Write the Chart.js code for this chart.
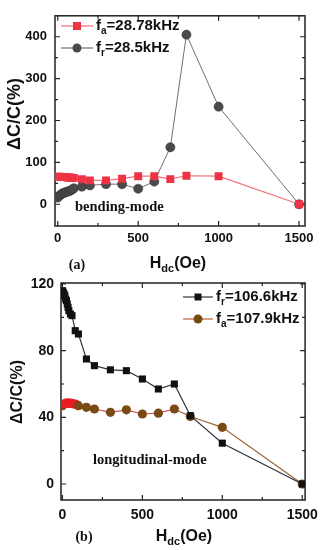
<!DOCTYPE html>
<html>
<head>
<meta charset="utf-8">
<script src="https://cdn.jsdelivr.net/npm/chart.js@4.4.0/dist/chart.umd.min.js"></script>
<style>
  body { margin: 0; background: #fff; width: 325px; height: 550px; position: relative; overflow: hidden; }
  canvas { position: absolute; left: 0; }
  #chartA { top: 0; }
  #chartB { top: 265px; }
</style>
</head>
<body>
<canvas id="chartA" width="325" height="285"></canvas>
<canvas id="chartB" width="325" height="285"></canvas>
<script>
// (a) bending mode
const fieldA = [0, 10, 20, 30, 40, 50, 60, 70, 80, 90, 100, 150, 200, 300, 400, 500, 600, 700, 800, 1000, 1500];
const faBend = [66, 66, 65, 65, 65, 65, 64, 64, 64, 63, 63, 60, 57, 57, 61, 67, 67, 60, 68, 67, 0];
const frBend = [16, 20, 23, 26, 27, 29, 30, 31, 33, 35, 38, 42, 45, 48, 48, 37, 54, 136, 405, 233, 0];

// (b) longitudinal mode
const fieldBr = [0, 5, 10, 15, 20, 25, 30, 35, 40, 50, 60, 80, 100, 150, 200, 300, 400, 500, 600, 700, 800, 1000, 1500];
const frLong = [116, 115, 114, 113, 111, 110, 108, 106, 104, 102, 101, 92, 90, 75, 71, 68.5, 68, 63, 57, 60, 41, 24.5, 0];
const fieldBa = [0, 10, 20, 30, 40, 50, 60, 70, 80, 90, 100, 150, 200, 300, 400, 500, 600, 700, 800, 1000, 1500];
const faLong = [47, 48, 48.5, 48.5, 48.5, 48.5, 48.3, 48, 48, 47.5, 47, 46, 45, 43, 44.5, 42, 42.5, 45, 40.5, 34, 0];

const xTicks = [0, 500, 1000, 1500];
const xMinor = [250, 750, 1250];
const yTicksA = [0, 100, 200, 300, 400];
const yMinorA = [50, 150, 250, 350];
const yTicksB = [0, 40, 80, 120];
const yMinorB = [20, 60, 100];

const SANS = '"Liberation Sans", Arial, sans-serif';
const SERIF = '"Liberation Serif", "Times New Roman", serif';

const pts = (xs, ys) => xs.map((x, i) => ({ x: x, y: ys[i] }));

// frame with inward ticks on all four sides
const frame = {
  id: 'frame',
  beforeDatasetsDraw(chart, args, o) {
    const { ctx, chartArea: a, scales: { x, y } } = chart;
    ctx.save();
    ctx.strokeStyle = '#222';
    ctx.lineWidth = 1.5;
    ctx.strokeRect(a.left, a.top, a.right - a.left, a.bottom - a.top);
    ctx.lineWidth = 1.2;
    ctx.beginPath();
    const xt = (vals, len) => vals.forEach(v => {
      const px = x.getPixelForValue(v);
      ctx.moveTo(px, a.bottom); ctx.lineTo(px, a.bottom - len);
      ctx.moveTo(px, a.top); ctx.lineTo(px, a.top + len);
    });
    const yt = (vals, len) => vals.forEach(v => {
      const py = y.getPixelForValue(v);
      ctx.moveTo(a.left, py); ctx.lineTo(a.left + len, py);
      ctx.moveTo(a.right, py); ctx.lineTo(a.right - len, py);
    });
    xt(xTicks, 5); xt(xMinor, 3);
    yt(o.yMajor, 5); yt(o.yMinor, 3);
    ctx.stroke();
    ctx.restore();
  }
};

function subText(ctx, main, sub, rest, x, y, size, align) {
  const f1 = 'bold ' + size + 'px ' + SANS;
  const f2 = 'bold ' + Math.round(size * 0.68) + 'px ' + SANS;
  ctx.font = f1; const w1 = ctx.measureText(main).width; const w3 = ctx.measureText(rest).width;
  ctx.font = f2; const w2 = ctx.measureText(sub).width;
  let sx = align === 'center' ? x - (w1 + w2 + w3) / 2 : x;
  ctx.textAlign = 'left';
  ctx.textBaseline = 'middle';
  ctx.font = f1; ctx.fillText(main, sx, y);
  ctx.font = f2; ctx.fillText(sub, sx + w1, y + size * 0.32);
  ctx.font = f1; ctx.fillText(rest, sx + w1 + w2, y);
}

const deco = {
  id: 'deco',
  afterDraw(chart, args, o) {
    const ctx = chart.ctx;
    ctx.save();
    ctx.fillStyle = '#111';
    // y title
    ctx.save();
    ctx.translate(o.yTitle[0], o.yTitle[1]);
    ctx.rotate(-Math.PI / 2);
    ctx.font = 'bold ' + o.yTitle[2] + 'px ' + SANS;
    ctx.textAlign = 'center';
    ctx.textBaseline = 'middle';
    ctx.fillText('ΔC/C(%)', 0, 0);
    ctx.restore();
    // x title
    subText(ctx, 'H', 'dc', '(Oe)', o.xTitle[0], o.xTitle[1], 16, 'center');
    // panel tag and mode label
    ctx.font = 'bold 14px ' + SERIF;
    ctx.textAlign = 'center';
    ctx.textBaseline = 'middle';
    ctx.fillText(o.tag[0], o.tag[1], o.tag[2]);
    ctx.textAlign = 'left';
    ctx.font = 'bold 14.5px ' + SERIF;
    ctx.fillText(o.mode[0], o.mode[1], o.mode[2]);
    // legend
    o.legend.forEach(it => {
      ctx.strokeStyle = it.line;
      ctx.lineWidth = 1.2;
      ctx.beginPath();
      ctx.moveTo(it.x0, it.y); ctx.lineTo(it.x1, it.y);
      ctx.stroke();
      ctx.fillStyle = it.fill;
      const mx = (it.x0 + it.x1) / 2;
      ctx.beginPath();
      if (it.style === 'rect') ctx.rect(mx - it.r, it.y - it.r, it.r * 2, it.r * 2);
      else ctx.arc(mx, it.y, it.r, 0, Math.PI * 2);
      ctx.fill();
      ctx.fillStyle = '#111';
      subText(ctx, 'f', it.sub, it.rest, it.x1 + 3, it.y, 15, 'left');
    });
    ctx.restore();
  }
};

const tickFont = size => ({ family: SANS, size: size, weight: 'bold' });

function axes(xr, yr, yMajor, xH, yW, xPad, yPad, fs) {
  return {
    x: {
      type: 'linear', min: xr[0], max: xr[1],
      afterBuildTicks: s => { s.ticks = xTicks.map(v => ({ value: v })); },
      afterFit: s => { s.height = xH; },
      grid: { display: false, drawTicks: false },
      border: { display: false },
      ticks: { padding: xPad, font: tickFont(fs), color: '#111', maxRotation: 0, autoSkip: false, callback: v => String(v) }
    },
    y: {
      min: yr[0], max: yr[1],
      afterBuildTicks: s => { s.ticks = yMajor.map(v => ({ value: v })); },
      afterFit: s => { s.width = yW; },
      grid: { display: false, drawTicks: false },
      border: { display: false },
      ticks: { padding: yPad, font: tickFont(fs), color: '#111', autoSkip: false, callback: v => String(v) }
    }
  };
}

new Chart(document.getElementById('chartA'), {
  type: 'line',
  data: {
    datasets: [
      {
        label: 'fa=28.78kHz', data: pts(fieldA, faBend),
        borderColor: '#f2707a', borderWidth: 1.2, tension: 0,
        pointStyle: 'rect', pointRadius: 5.6, pointBackgroundColor: '#ee3344', pointBorderWidth: 0
      },
      {
        label: 'fr=28.5kHz', data: pts(fieldA, frBend),
        borderColor: '#707070', borderWidth: 1, tension: 0,
        pointStyle: 'circle', pointRadius: 4.6, pointBackgroundColor: '#4a4a4a', pointBorderColor: '#333', pointBorderWidth: 0.5
      }
    ]
  },
  options: {
    responsive: false, animation: false,
    layout: { padding: { top: 7, right: 20, left: 0, bottom: 0 } },
    plugins: {
      legend: { display: false }, tooltip: { enabled: false },
      frame: { yMajor: yTicksA, yMinor: yMinorA },
      deco: {
        yTitle: [15, 114, 18], xTitle: [178, 264], tag: ['(a)', 77, 265], mode: ['bending-mode', 75, 207],
        legend: [
          { x0: 61, x1: 93, y: 26, line: '#f2707a', fill: '#ee3344', style: 'rect', r: 4, sub: 'a', rest: '=28.78kHz' },
          { x0: 61, x1: 93, y: 48, line: '#707070', fill: '#4a4a4a', style: 'circle', r: 4.5, sub: 'r', rest: '=28.5kHz' }
        ]
      }
    },
    scales: axes([-17, 1537], [-52, 450], yTicksA, 59, 55, 5, 8, 13)
  },
  plugins: [frame, deco]
});

const brown = '#7a4a14';
new Chart(document.getElementById('chartB'), {
  type: 'line',
  data: {
    datasets: [
      {
        label: 'fr=106.6kHz', data: pts(fieldBr, frLong),
        borderColor: '#2e3246', borderWidth: 1.2, tension: 0,
        pointStyle: 'rect', pointRadius: 5, pointBackgroundColor: '#111', pointBorderWidth: 0
      },
      {
        label: 'fa=107.9kHz', data: pts(fieldBa, faLong),
        borderColor: '#9a6636', borderWidth: 1.2, tension: 0,
        segment: { borderColor: c => c.p0.parsed.x < 700 ? '#dd4a5a' : '#9a6636' },
        pointStyle: 'circle', pointRadius: 4.6, pointBorderWidth: 0,
        pointBackgroundColor: c => (c.parsed && c.parsed.x > 0 && c.parsed.x < 100) ? '#e81c22' : brown
      }
    ]
  },
  options: {
    responsive: false, animation: false,
    layout: { padding: { top: 18, right: 17, left: 0, bottom: 0 } },
    plugins: {
      legend: { display: false }, tooltip: { enabled: false },
      frame: { yMajor: yTicksB, yMinor: yMinorB },
      deco: {
        yTitle: [18, 127, 16], xTitle: [184, 272], tag: ['(b)', 84, 272], mode: ['longitudinal-mode', 93, 195],
        legend: [
          { x0: 183, x1: 213, y: 32, line: '#2e3246', fill: '#111', style: 'rect', r: 3.5, sub: 'r', rest: '=106.6kHz' },
          { x0: 183, x1: 213, y: 54, line: '#c0603a', fill: brown, style: 'circle', r: 4.5, sub: 'a', rest: '=107.9kHz' }
        ]
      }
    },
    scales: axes([-9, 1518], [-9.6, 120.6], yTicksB, 50, 61, 7, 7, 14)
  },
  plugins: [frame, deco]
});
</script>
</body>
</html>
